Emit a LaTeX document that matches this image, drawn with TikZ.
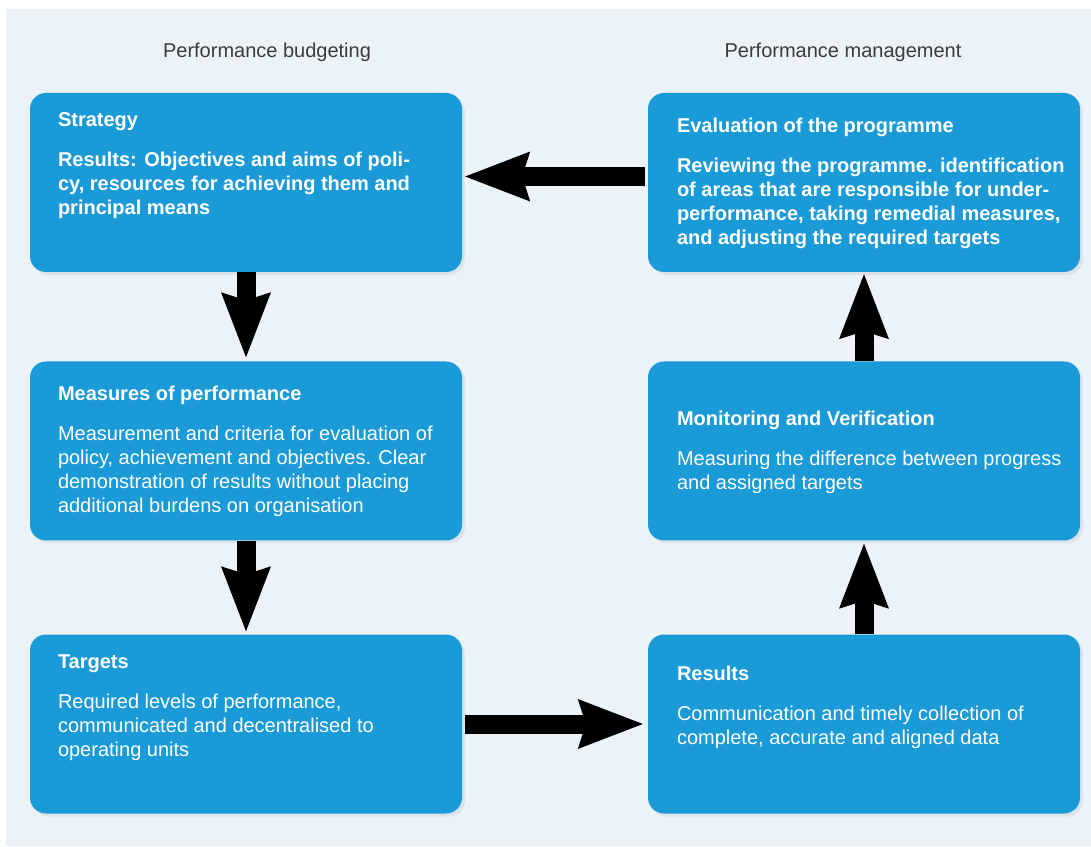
\documentclass[tikz,border=0pt]{standalone}
\usepackage{fontspec}
\setmainfont{Liberation Sans}
\usepackage{xcolor}
\usetikzlibrary{positioning,arrows.meta,shadows}

\definecolor{boxblue}{HTML}{1A9AD7}
\definecolor{panel}{HTML}{EBF2F8}
\definecolor{headgrey}{HTML}{3C3C3C}

\begin{document}
\begin{tikzpicture}[
  x=1pt, y=1pt,
  stage/.style={fill=boxblue, rounded corners=16pt, minimum width=432pt, minimum height=179pt, inner sep=0pt,
    drop shadow={shadow xshift=3pt, shadow yshift=-3pt, opacity=0.12}},
  txt/.style={text=white, align=left, inner sep=0pt, font=\fontsize{20}{24}\selectfont},
  bodybold/.style={txt, font=\fontsize{20}{24}\selectfont\bfseries},
  head/.style={text=headgrey, font=\fontsize{20}{24}\selectfont},
  flow/.style={line width=19pt, -{Stealth[length=65pt, width=50pt, inset=8pt, line width=0pt]}}
]

% page and panel
\useasboundingbox (0,0) rectangle (1091,846);
\fill[panel] (6,0) rectangle (1091,837);

% Column headings
\node[head] (budg) at (267,794) {Performance budgeting};
\node[head] (mgmt) at (843,794) {Performance management};

% Performance budgeting
\node[stage] (strat) at (246,663.5) {};
\node[bodybold, below right=20pt and 28pt of strat.north west] (strattxt) {Strategy\\[16pt]
  Results: Objectives and aims of poli-\\cy, resources for achieving them and\\principal means};

\node[stage] (meas) at (246,395) {};
\node[txt, below right=25pt and 28pt of meas.north west] (meastxt) {\textbf{Measures of performance}\\[16pt]
  Measurement and criteria for evaluation of\\policy, achievement and objectives. Clear\\demonstration of results without placing\\additional burdens on organisation};

\node[stage] (targ) at (246,122) {};
\node[txt, below right=20pt and 28pt of targ.north west] (targtxt) {\textbf{Targets}\\[16pt]
  Required levels of performance,\\communicated and decentralised to\\operating units};

% Performance management
\node[stage] (eval) at (864,663.5) {};
\node[bodybold, below right=25pt and 29pt of eval.north west] (evaltxt) {Evaluation of the programme\\[16pt]
  Reviewing the programme. identification\\of areas that are responsible for under-\\performance, taking remedial measures,\\and adjusting the required targets};

\node[stage] (mon) at (864,395) {};
\node[txt, below right=50pt and 29pt of mon.north west] (montxt) {\textbf{Monitoring and Verification}\\[16pt]
  Measuring the difference between progress\\and assigned targets};

\node[stage] (res) at (864,122) {};
\node[txt, below right=32pt and 29pt of res.north west] (restxt) {\textbf{Results}\\[16pt]
  Communication and timely collection of\\complete, accurate and aligned data};

% Flow between the stages
\draw[flow, shorten >=4pt] (strat) -- (meas);
\draw[flow, shorten >=3pt] (meas) -- (targ);
\draw[flow, shorten <=3pt, shorten >=5pt] (targ) -- (res);
\draw[flow, shorten >=3pt] (res) -- (mon);
\draw[flow, shorten >=2pt] (mon) -- (eval);
\draw[flow, shorten <=3pt, shorten >=3pt] ([yshift=6pt]eval.west) -- ([yshift=6pt]strat.east);

\end{tikzpicture}
\end{document}
